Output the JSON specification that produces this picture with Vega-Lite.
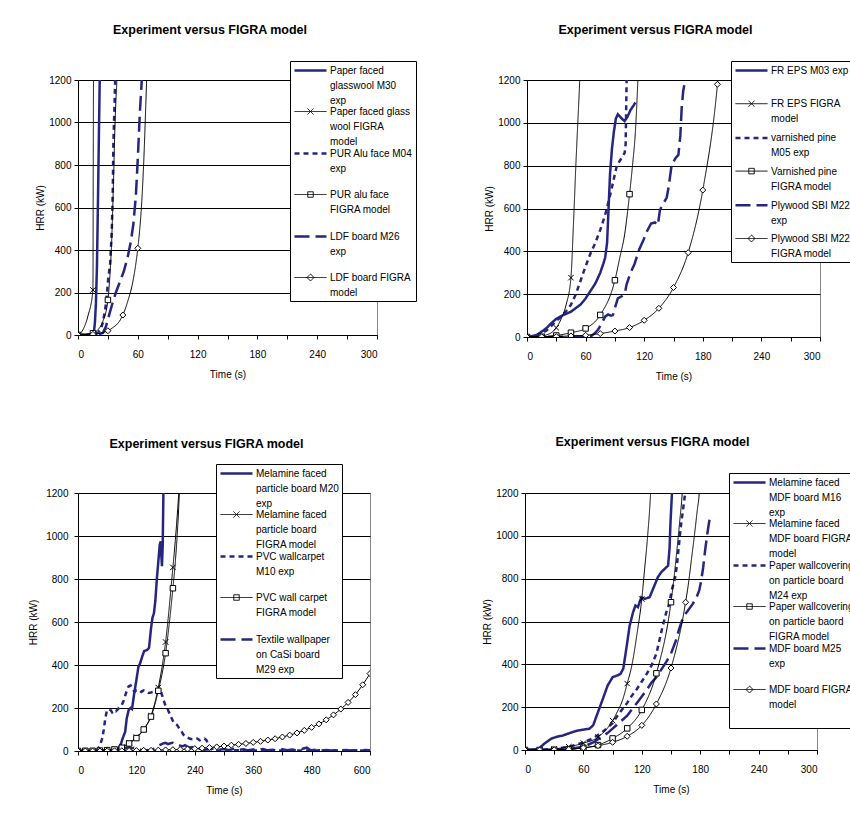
{
"$schema": "https://vega.github.io/schema/vega-lite/v6.json",
"padding": {"left": 28, "top": 23, "right": 0, "bottom": 0},
"background": "white",
"resolve": {"scale": {"color": "independent", "strokeDash": "independent", "shape": "independent", "strokeWidth": "independent"}, "legend": {"color": "independent", "strokeDash": "independent", "shape": "independent", "strokeWidth": "independent"}},
"datasets": {
"p1": [
{"series":"M30 exp","t":0,"hrr":0},{"series":"M30 exp","t":5,"hrr":1},{"series":"M30 exp","t":10,"hrr":2},{"series":"M30 exp","t":14,"hrr":5},{"series":"M30 exp","t":16,"hrr":15},{"series":"M30 exp","t":17,"hrr":60},{"series":"M30 exp","t":18,"hrr":150},{"series":"M30 exp","t":19,"hrr":320},{"series":"M30 exp","t":20,"hrr":620},{"series":"M30 exp","t":21,"hrr":950},{"series":"M30 exp","t":21.8,"hrr":1200},{"series":"M30 exp","t":22.2,"hrr":1300},
{"series":"M30 model","t":0,"hrr":0},{"series":"M30 model","t":5,"hrr":25},{"series":"M30 model","t":10,"hrr":90},{"series":"M30 model","t":15,"hrr":212},{"series":"M30 model","t":15.3,"hrr":800},{"series":"M30 model","t":15.6,"hrr":1300},
{"series":"M04 exp","t":0,"hrr":0},{"series":"M04 exp","t":10,"hrr":1},{"series":"M04 exp","t":15,"hrr":3},{"series":"M04 exp","t":20,"hrr":10},{"series":"M04 exp","t":23,"hrr":30},{"series":"M04 exp","t":25,"hrr":60},{"series":"M04 exp","t":26.5,"hrr":100},{"series":"M04 exp","t":28.2,"hrr":150},{"series":"M04 exp","t":29.5,"hrr":220},{"series":"M04 exp","t":30.5,"hrr":275},{"series":"M04 exp","t":32.2,"hrr":330},{"series":"M04 exp","t":33.9,"hrr":490},{"series":"M04 exp","t":34.9,"hrr":680},{"series":"M04 exp","t":35.5,"hrr":900},{"series":"M04 exp","t":36.5,"hrr":1060},{"series":"M04 exp","t":37.2,"hrr":1180},{"series":"M04 exp","t":37.6,"hrr":1260},
{"series":"M04 model","t":0,"hrr":0},{"series":"M04 model","t":15,"hrr":8},{"series":"M04 model","t":20,"hrr":25},{"series":"M04 model","t":25,"hrr":65},{"series":"M04 model","t":30,"hrr":165},{"series":"M04 model","t":32,"hrr":280},{"series":"M04 model","t":34,"hrr":470},{"series":"M04 model","t":35,"hrr":620},{"series":"M04 model","t":36,"hrr":790},{"series":"M04 model","t":37,"hrr":970},{"series":"M04 model","t":38,"hrr":1100},{"series":"M04 model","t":39,"hrr":1200},{"series":"M04 model","t":39.5,"hrr":1280},
{"series":"M26 exp","t":0,"hrr":0},{"series":"M26 exp","t":15,"hrr":1},{"series":"M26 exp","t":20,"hrr":3},{"series":"M26 exp","t":25,"hrr":10},{"series":"M26 exp","t":28,"hrr":40},{"series":"M26 exp","t":31,"hrr":90},{"series":"M26 exp","t":34,"hrr":140},{"series":"M26 exp","t":38,"hrr":200},{"series":"M26 exp","t":42,"hrr":250},{"series":"M26 exp","t":46,"hrr":300},{"series":"M26 exp","t":50,"hrr":370},{"series":"M26 exp","t":53,"hrr":440},{"series":"M26 exp","t":55.5,"hrr":520},{"series":"M26 exp","t":58,"hrr":650},{"series":"M26 exp","t":60,"hrr":830},{"series":"M26 exp","t":62,"hrr":1040},{"series":"M26 exp","t":64,"hrr":1200},{"series":"M26 exp","t":64.5,"hrr":1260},
{"series":"M26 model","t":0,"hrr":0},{"series":"M26 model","t":15,"hrr":3},{"series":"M26 model","t":30,"hrr":20},{"series":"M26 model","t":35,"hrr":35},{"series":"M26 model","t":40,"hrr":55},{"series":"M26 model","t":45,"hrr":94},{"series":"M26 model","t":50,"hrr":160},{"series":"M26 model","t":55,"hrr":250},{"series":"M26 model","t":60,"hrr":408},{"series":"M26 model","t":62,"hrr":500},{"series":"M26 model","t":64,"hrr":630},{"series":"M26 model","t":66,"hrr":820},{"series":"M26 model","t":68,"hrr":1080},{"series":"M26 model","t":69,"hrr":1220}
],
"p2": [
{"series":"M03 exp","t":0,"hrr":0},{"series":"M03 exp","t":5,"hrr":3},{"series":"M03 exp","t":10,"hrr":10},{"series":"M03 exp","t":15,"hrr":25},{"series":"M03 exp","t":20,"hrr":42},{"series":"M03 exp","t":25,"hrr":65},{"series":"M03 exp","t":30,"hrr":85},{"series":"M03 exp","t":35,"hrr":98},{"series":"M03 exp","t":40,"hrr":108},{"series":"M03 exp","t":45,"hrr":118},{"series":"M03 exp","t":50,"hrr":135},{"series":"M03 exp","t":55,"hrr":152},{"series":"M03 exp","t":60,"hrr":180},{"series":"M03 exp","t":65,"hrr":215},{"series":"M03 exp","t":70,"hrr":250},{"series":"M03 exp","t":75,"hrr":300},{"series":"M03 exp","t":78,"hrr":340},{"series":"M03 exp","t":80,"hrr":370},{"series":"M03 exp","t":82,"hrr":440},{"series":"M03 exp","t":83.5,"hrr":600},{"series":"M03 exp","t":85,"hrr":760},{"series":"M03 exp","t":87,"hrr":880},{"series":"M03 exp","t":89,"hrr":960},{"series":"M03 exp","t":91,"hrr":1020},{"series":"M03 exp","t":93,"hrr":1040},{"series":"M03 exp","t":95,"hrr":1030},{"series":"M03 exp","t":97,"hrr":1020},{"series":"M03 exp","t":100,"hrr":1008},{"series":"M03 exp","t":103,"hrr":1030},{"series":"M03 exp","t":106,"hrr":1060},{"series":"M03 exp","t":109,"hrr":1080},{"series":"M03 exp","t":111,"hrr":1095},
{"series":"M03 model","t":0,"hrr":0},{"series":"M03 model","t":15,"hrr":3},{"series":"M03 model","t":20,"hrr":10},{"series":"M03 model","t":25,"hrr":20},{"series":"M03 model","t":30,"hrr":43},{"series":"M03 model","t":35,"hrr":85},{"series":"M03 model","t":40,"hrr":150},{"series":"M03 model","t":45,"hrr":277},{"series":"M03 model","t":47.5,"hrr":520},{"series":"M03 model","t":50,"hrr":800},{"series":"M03 model","t":52,"hrr":1000},{"series":"M03 model","t":54,"hrr":1200},{"series":"M03 model","t":54.5,"hrr":1260},
{"series":"M05 exp","t":0,"hrr":0},{"series":"M05 exp","t":10,"hrr":5},{"series":"M05 exp","t":20,"hrr":30},{"series":"M05 exp","t":30,"hrr":75},{"series":"M05 exp","t":35,"hrr":95},{"series":"M05 exp","t":40,"hrr":120},{"series":"M05 exp","t":45,"hrr":150},{"series":"M05 exp","t":50,"hrr":200},{"series":"M05 exp","t":55,"hrr":265},{"series":"M05 exp","t":60,"hrr":330},{"series":"M05 exp","t":65,"hrr":390},{"series":"M05 exp","t":70,"hrr":440},{"series":"M05 exp","t":75,"hrr":500},{"series":"M05 exp","t":80,"hrr":570},{"series":"M05 exp","t":85,"hrr":660},{"series":"M05 exp","t":88,"hrr":720},{"series":"M05 exp","t":92,"hrr":800},{"series":"M05 exp","t":96,"hrr":830},{"series":"M05 exp","t":100,"hrr":860},{"series":"M05 exp","t":101,"hrr":900},{"series":"M05 exp","t":101.5,"hrr":1050},{"series":"M05 exp","t":102,"hrr":1200},{"series":"M05 exp","t":102.3,"hrr":1260},
{"series":"M05 model","t":0,"hrr":0},{"series":"M05 model","t":15,"hrr":1},{"series":"M05 model","t":30,"hrr":7},{"series":"M05 model","t":45,"hrr":20},{"series":"M05 model","t":60,"hrr":40},{"series":"M05 model","t":75,"hrr":103},{"series":"M05 model","t":90,"hrr":265},{"series":"M05 model","t":95,"hrr":370},{"series":"M05 model","t":100,"hrr":480},{"series":"M05 model","t":105,"hrr":667},{"series":"M05 model","t":108,"hrr":800},{"series":"M05 model","t":111,"hrr":960},{"series":"M05 model","t":113.5,"hrr":1200},{"series":"M05 model","t":114,"hrr":1260},
{"series":"M22 exp","t":0,"hrr":0},{"series":"M22 exp","t":30,"hrr":1},{"series":"M22 exp","t":60,"hrr":2},{"series":"M22 exp","t":66,"hrr":5},{"series":"M22 exp","t":70,"hrr":20},{"series":"M22 exp","t":73,"hrr":36},{"series":"M22 exp","t":76,"hrr":60},{"series":"M22 exp","t":80,"hrr":95},{"series":"M22 exp","t":83,"hrr":105},{"series":"M22 exp","t":86,"hrr":100},{"series":"M22 exp","t":88,"hrr":103},{"series":"M22 exp","t":90,"hrr":135},{"series":"M22 exp","t":93,"hrr":180},{"series":"M22 exp","t":97,"hrr":190},{"series":"M22 exp","t":100,"hrr":200},{"series":"M22 exp","t":102,"hrr":246},{"series":"M22 exp","t":106,"hrr":300},{"series":"M22 exp","t":110,"hrr":340},{"series":"M22 exp","t":115,"hrr":410},{"series":"M22 exp","t":119,"hrr":450},{"series":"M22 exp","t":123,"hrr":495},{"series":"M22 exp","t":127,"hrr":530},{"series":"M22 exp","t":131,"hrr":535},{"series":"M22 exp","t":134,"hrr":522},{"series":"M22 exp","t":136,"hrr":590},{"series":"M22 exp","t":138,"hrr":612},{"series":"M22 exp","t":143,"hrr":650},{"series":"M22 exp","t":145,"hrr":700},{"series":"M22 exp","t":148,"hrr":800},{"series":"M22 exp","t":152,"hrr":835},{"series":"M22 exp","t":155,"hrr":850},{"series":"M22 exp","t":157,"hrr":940},{"series":"M22 exp","t":158.5,"hrr":1080},{"series":"M22 exp","t":160,"hrr":1150},{"series":"M22 exp","t":162,"hrr":1200},{"series":"M22 exp","t":163.5,"hrr":1240},
{"series":"M22 model","t":0,"hrr":0},{"series":"M22 model","t":15,"hrr":1},{"series":"M22 model","t":30,"hrr":2},{"series":"M22 model","t":45,"hrr":5},{"series":"M22 model","t":60,"hrr":8},{"series":"M22 model","t":75,"hrr":16},{"series":"M22 model","t":90,"hrr":28},{"series":"M22 model","t":105,"hrr":44},{"series":"M22 model","t":120,"hrr":78},{"series":"M22 model","t":135,"hrr":134},{"series":"M22 model","t":150,"hrr":231},{"series":"M22 model","t":165,"hrr":394},{"series":"M22 model","t":180,"hrr":686},{"series":"M22 model","t":195,"hrr":1180},{"series":"M22 model","t":196,"hrr":1230}
],
"p3": [
{"series":"M20 exp","t":0,"hrr":0},{"series":"M20 exp","t":30,"hrr":0},{"series":"M20 exp","t":60,"hrr":1},{"series":"M20 exp","t":80,"hrr":3},{"series":"M20 exp","t":87,"hrr":25},{"series":"M20 exp","t":92,"hrr":60},{"series":"M20 exp","t":97,"hrr":90},{"series":"M20 exp","t":100,"hrr":150},{"series":"M20 exp","t":104,"hrr":190},{"series":"M20 exp","t":108,"hrr":200},{"series":"M20 exp","t":111,"hrr":195},{"series":"M20 exp","t":115,"hrr":260},{"series":"M20 exp","t":120,"hrr":330},{"series":"M20 exp","t":124,"hrr":390},{"series":"M20 exp","t":128,"hrr":410},{"series":"M20 exp","t":132,"hrr":440},{"series":"M20 exp","t":136,"hrr":465},{"series":"M20 exp","t":142,"hrr":470},{"series":"M20 exp","t":146,"hrr":480},{"series":"M20 exp","t":150,"hrr":570},{"series":"M20 exp","t":153,"hrr":620},{"series":"M20 exp","t":156,"hrr":640},{"series":"M20 exp","t":159,"hrr":700},{"series":"M20 exp","t":162,"hrr":800},{"series":"M20 exp","t":165,"hrr":880},{"series":"M20 exp","t":168,"hrr":960},{"series":"M20 exp","t":170,"hrr":975},{"series":"M20 exp","t":171,"hrr":920},{"series":"M20 exp","t":172.5,"hrr":860},{"series":"M20 exp","t":174,"hrr":950},{"series":"M20 exp","t":175.5,"hrr":1200},{"series":"M20 exp","t":176,"hrr":1260},
{"series":"M20 model","t":0,"hrr":0},{"series":"M20 model","t":15,"hrr":0},{"series":"M20 model","t":30,"hrr":1},{"series":"M20 model","t":45,"hrr":2},{"series":"M20 model","t":60,"hrr":4},{"series":"M20 model","t":75,"hrr":8},{"series":"M20 model","t":90,"hrr":18},{"series":"M20 model","t":105,"hrr":38},{"series":"M20 model","t":120,"hrr":64},{"series":"M20 model","t":135,"hrr":102},{"series":"M20 model","t":150,"hrr":164},{"series":"M20 model","t":165,"hrr":295},{"series":"M20 model","t":180,"hrr":507},{"series":"M20 model","t":195,"hrr":854},{"series":"M20 model","t":200,"hrr":980},{"series":"M20 model","t":205,"hrr":1130},{"series":"M20 model","t":208,"hrr":1230},
{"series":"M10 exp","t":0,"hrr":0},{"series":"M10 exp","t":10,"hrr":1},{"series":"M10 exp","t":20,"hrr":0},{"series":"M10 exp","t":30,"hrr":2},{"series":"M10 exp","t":36,"hrr":3},{"series":"M10 exp","t":40,"hrr":8},{"series":"M10 exp","t":45,"hrr":25},{"series":"M10 exp","t":50,"hrr":60},{"series":"M10 exp","t":53,"hrr":100},{"series":"M10 exp","t":56,"hrr":150},{"series":"M10 exp","t":59,"hrr":185},{"series":"M10 exp","t":63,"hrr":195},{"series":"M10 exp","t":67,"hrr":190},{"series":"M10 exp","t":70,"hrr":180},{"series":"M10 exp","t":74,"hrr":190},{"series":"M10 exp","t":78,"hrr":185},{"series":"M10 exp","t":82,"hrr":195},{"series":"M10 exp","t":86,"hrr":205},{"series":"M10 exp","t":90,"hrr":215},{"series":"M10 exp","t":94,"hrr":235},{"series":"M10 exp","t":98,"hrr":265},{"series":"M10 exp","t":101,"hrr":285},{"series":"M10 exp","t":104,"hrr":300},{"series":"M10 exp","t":108,"hrr":305},{"series":"M10 exp","t":112,"hrr":290},{"series":"M10 exp","t":116,"hrr":275},{"series":"M10 exp","t":120,"hrr":282},{"series":"M10 exp","t":125,"hrr":285},{"series":"M10 exp","t":130,"hrr":275},{"series":"M10 exp","t":135,"hrr":282},{"series":"M10 exp","t":140,"hrr":278},{"series":"M10 exp","t":145,"hrr":270},{"series":"M10 exp","t":150,"hrr":272},{"series":"M10 exp","t":155,"hrr":275},{"series":"M10 exp","t":160,"hrr":268},{"series":"M10 exp","t":165,"hrr":280},{"series":"M10 exp","t":169,"hrr":288},{"series":"M10 exp","t":172,"hrr":265},{"series":"M10 exp","t":176,"hrr":235},{"series":"M10 exp","t":180,"hrr":210},{"series":"M10 exp","t":184,"hrr":195},{"series":"M10 exp","t":188,"hrr":175},{"series":"M10 exp","t":192,"hrr":155},{"series":"M10 exp","t":196,"hrr":135},{"series":"M10 exp","t":200,"hrr":128},{"series":"M10 exp","t":204,"hrr":120},{"series":"M10 exp","t":208,"hrr":105},{"series":"M10 exp","t":212,"hrr":95},{"series":"M10 exp","t":216,"hrr":78},{"series":"M10 exp","t":220,"hrr":68},{"series":"M10 exp","t":225,"hrr":63},{"series":"M10 exp","t":230,"hrr":57},{"series":"M10 exp","t":235,"hrr":55},{"series":"M10 exp","t":240,"hrr":55},{"series":"M10 exp","t":245,"hrr":58},{"series":"M10 exp","t":250,"hrr":50},{"series":"M10 exp","t":255,"hrr":55},{"series":"M10 exp","t":260,"hrr":58},{"series":"M10 exp","t":264,"hrr":50},{"series":"M10 exp","t":268,"hrr":28},{"series":"M10 exp","t":272,"hrr":12},{"series":"M10 exp","t":276,"hrr":5},{"series":"M10 exp","t":285,"hrr":3},{"series":"M10 exp","t":300,"hrr":2},{"series":"M10 exp","t":330,"hrr":4},{"series":"M10 exp","t":360,"hrr":2},{"series":"M10 exp","t":400,"hrr":3},{"series":"M10 exp","t":450,"hrr":2},{"series":"M10 exp","t":500,"hrr":3},{"series":"M10 exp","t":550,"hrr":2},{"series":"M10 exp","t":600,"hrr":2},
{"series":"M10 model","t":0,"hrr":0},{"series":"M10 model","t":15,"hrr":1},{"series":"M10 model","t":30,"hrr":1},{"series":"M10 model","t":45,"hrr":2},{"series":"M10 model","t":60,"hrr":4},{"series":"M10 model","t":75,"hrr":7},{"series":"M10 model","t":90,"hrr":15},{"series":"M10 model","t":105,"hrr":35},{"series":"M10 model","t":120,"hrr":60},{"series":"M10 model","t":135,"hrr":100},{"series":"M10 model","t":150,"hrr":160},{"series":"M10 model","t":165,"hrr":280},{"series":"M10 model","t":180,"hrr":455},{"series":"M10 model","t":195,"hrr":757},{"series":"M10 model","t":200,"hrr":880},{"series":"M10 model","t":205,"hrr":1050},{"series":"M10 model","t":209,"hrr":1230},
{"series":"M29 exp","t":0,"hrr":0},{"series":"M29 exp","t":30,"hrr":1},{"series":"M29 exp","t":60,"hrr":2},{"series":"M29 exp","t":80,"hrr":3},{"series":"M29 exp","t":90,"hrr":6},{"series":"M29 exp","t":95,"hrr":10},{"series":"M29 exp","t":100,"hrr":15},{"series":"M29 exp","t":105,"hrr":18},{"series":"M29 exp","t":110,"hrr":12},{"series":"M29 exp","t":115,"hrr":15},{"series":"M29 exp","t":120,"hrr":10},{"series":"M29 exp","t":125,"hrr":8},{"series":"M29 exp","t":130,"hrr":5},{"series":"M29 exp","t":140,"hrr":3},{"series":"M29 exp","t":150,"hrr":5},{"series":"M29 exp","t":155,"hrr":10},{"series":"M29 exp","t":160,"hrr":18},{"series":"M29 exp","t":165,"hrr":25},{"series":"M29 exp","t":170,"hrr":30},{"series":"M29 exp","t":175,"hrr":35},{"series":"M29 exp","t":180,"hrr":38},{"series":"M29 exp","t":185,"hrr":32},{"series":"M29 exp","t":190,"hrr":36},{"series":"M29 exp","t":195,"hrr":38},{"series":"M29 exp","t":200,"hrr":33},{"series":"M29 exp","t":205,"hrr":30},{"series":"M29 exp","t":210,"hrr":25},{"series":"M29 exp","t":215,"hrr":22},{"series":"M29 exp","t":220,"hrr":27},{"series":"M29 exp","t":225,"hrr":20},{"series":"M29 exp","t":230,"hrr":16},{"series":"M29 exp","t":235,"hrr":18},{"series":"M29 exp","t":240,"hrr":12},{"series":"M29 exp","t":250,"hrr":10},{"series":"M29 exp","t":260,"hrr":6},{"series":"M29 exp","t":270,"hrr":8},{"series":"M29 exp","t":280,"hrr":12},{"series":"M29 exp","t":290,"hrr":6},{"series":"M29 exp","t":300,"hrr":9},{"series":"M29 exp","t":310,"hrr":4},{"series":"M29 exp","t":320,"hrr":10},{"series":"M29 exp","t":330,"hrr":5},{"series":"M29 exp","t":340,"hrr":8},{"series":"M29 exp","t":350,"hrr":3},{"series":"M29 exp","t":360,"hrr":7},{"series":"M29 exp","t":370,"hrr":4},{"series":"M29 exp","t":380,"hrr":9},{"series":"M29 exp","t":390,"hrr":3},{"series":"M29 exp","t":400,"hrr":6},{"series":"M29 exp","t":410,"hrr":2},{"series":"M29 exp","t":420,"hrr":8},{"series":"M29 exp","t":430,"hrr":4},{"series":"M29 exp","t":440,"hrr":7},{"series":"M29 exp","t":450,"hrr":3},{"series":"M29 exp","t":460,"hrr":9},{"series":"M29 exp","t":470,"hrr":16},{"series":"M29 exp","t":475,"hrr":8},{"series":"M29 exp","t":480,"hrr":3},{"series":"M29 exp","t":490,"hrr":6},{"series":"M29 exp","t":500,"hrr":2},{"series":"M29 exp","t":510,"hrr":5},{"series":"M29 exp","t":520,"hrr":2},{"series":"M29 exp","t":530,"hrr":4},{"series":"M29 exp","t":540,"hrr":3},{"series":"M29 exp","t":550,"hrr":5},{"series":"M29 exp","t":560,"hrr":2},{"series":"M29 exp","t":570,"hrr":4},{"series":"M29 exp","t":580,"hrr":2},{"series":"M29 exp","t":590,"hrr":5},{"series":"M29 exp","t":600,"hrr":3},
{"series":"M29 model","t":0,"hrr":0},{"series":"M29 model","t":15,"hrr":0},{"series":"M29 model","t":30,"hrr":0},{"series":"M29 model","t":45,"hrr":0},{"series":"M29 model","t":60,"hrr":1},{"series":"M29 model","t":75,"hrr":1},{"series":"M29 model","t":90,"hrr":1},{"series":"M29 model","t":105,"hrr":2},{"series":"M29 model","t":120,"hrr":2},{"series":"M29 model","t":135,"hrr":3},{"series":"M29 model","t":150,"hrr":3},{"series":"M29 model","t":165,"hrr":4},{"series":"M29 model","t":180,"hrr":5},{"series":"M29 model","t":195,"hrr":6},{"series":"M29 model","t":210,"hrr":7},{"series":"M29 model","t":225,"hrr":9},{"series":"M29 model","t":240,"hrr":11},{"series":"M29 model","t":255,"hrr":13},{"series":"M29 model","t":270,"hrr":16},{"series":"M29 model","t":285,"hrr":19},{"series":"M29 model","t":300,"hrr":23},{"series":"M29 model","t":315,"hrr":27},{"series":"M29 model","t":330,"hrr":31},{"series":"M29 model","t":345,"hrr":35},{"series":"M29 model","t":360,"hrr":40},{"series":"M29 model","t":375,"hrr":45},{"series":"M29 model","t":390,"hrr":51},{"series":"M29 model","t":405,"hrr":57},{"series":"M29 model","t":420,"hrr":65},{"series":"M29 model","t":435,"hrr":74},{"series":"M29 model","t":450,"hrr":84},{"series":"M29 model","t":465,"hrr":96},{"series":"M29 model","t":480,"hrr":110},{"series":"M29 model","t":495,"hrr":126},{"series":"M29 model","t":510,"hrr":145},{"series":"M29 model","t":525,"hrr":168},{"series":"M29 model","t":540,"hrr":195},{"series":"M29 model","t":555,"hrr":226},{"series":"M29 model","t":570,"hrr":262},{"series":"M29 model","t":585,"hrr":308},{"series":"M29 model","t":600,"hrr":360}
],
"p4": [
{"series":"M16 exp","t":0,"hrr":0},{"series":"M16 exp","t":10,"hrr":3},{"series":"M16 exp","t":14,"hrr":6},{"series":"M16 exp","t":20,"hrr":30},{"series":"M16 exp","t":27,"hrr":53},{"series":"M16 exp","t":33,"hrr":62},{"series":"M16 exp","t":39,"hrr":68},{"series":"M16 exp","t":44,"hrr":76},{"series":"M16 exp","t":51,"hrr":87},{"series":"M16 exp","t":56,"hrr":92},{"series":"M16 exp","t":61,"hrr":96},{"series":"M16 exp","t":66,"hrr":99},{"series":"M16 exp","t":70,"hrr":115},{"series":"M16 exp","t":75,"hrr":177},{"series":"M16 exp","t":80,"hrr":239},{"series":"M16 exp","t":85,"hrr":302},{"series":"M16 exp","t":90,"hrr":340},{"series":"M16 exp","t":95,"hrr":348},{"series":"M16 exp","t":98,"hrr":355},{"series":"M16 exp","t":101,"hrr":380},{"series":"M16 exp","t":104,"hrr":470},{"series":"M16 exp","t":107.5,"hrr":580},{"series":"M16 exp","t":111,"hrr":643},{"series":"M16 exp","t":113.5,"hrr":675},{"series":"M16 exp","t":116,"hrr":667},{"series":"M16 exp","t":119.5,"hrr":713},{"series":"M16 exp","t":123,"hrr":706},{"series":"M16 exp","t":128,"hrr":713},{"series":"M16 exp","t":133,"hrr":768},{"series":"M16 exp","t":136.5,"hrr":807},{"series":"M16 exp","t":140,"hrr":830},{"series":"M16 exp","t":143.5,"hrr":846},{"series":"M16 exp","t":147,"hrr":861},{"series":"M16 exp","t":148.5,"hrr":940},{"series":"M16 exp","t":149.5,"hrr":1063},{"series":"M16 exp","t":151,"hrr":1200},{"series":"M16 exp","t":151.5,"hrr":1260},
{"series":"M16 model","t":0,"hrr":0},{"series":"M16 model","t":15,"hrr":1},{"series":"M16 model","t":30,"hrr":5},{"series":"M16 model","t":45,"hrr":15},{"series":"M16 model","t":60,"hrr":32},{"series":"M16 model","t":75,"hrr":60},{"series":"M16 model","t":90,"hrr":137},{"series":"M16 model","t":95,"hrr":180},{"series":"M16 model","t":100,"hrr":230},{"series":"M16 model","t":105,"hrr":310},{"series":"M16 model","t":110,"hrr":400},{"series":"M16 model","t":115,"hrr":540},{"series":"M16 model","t":120,"hrr":705},{"series":"M16 model","t":123,"hrr":850},{"series":"M16 model","t":126,"hrr":1000},{"series":"M16 model","t":129,"hrr":1200},{"series":"M16 model","t":129.5,"hrr":1250},
{"series":"M24 exp","t":0,"hrr":0},{"series":"M24 exp","t":15,"hrr":2},{"series":"M24 exp","t":30,"hrr":5},{"series":"M24 exp","t":45,"hrr":15},{"series":"M24 exp","t":60,"hrr":35},{"series":"M24 exp","t":70,"hrr":55},{"series":"M24 exp","t":75,"hrr":70},{"series":"M24 exp","t":80,"hrr":85},{"series":"M24 exp","t":85,"hrr":105},{"series":"M24 exp","t":90,"hrr":125},{"series":"M24 exp","t":95,"hrr":160},{"series":"M24 exp","t":100,"hrr":190},{"series":"M24 exp","t":105,"hrr":220},{"series":"M24 exp","t":110,"hrr":255},{"series":"M24 exp","t":115,"hrr":285},{"series":"M24 exp","t":120,"hrr":320},{"series":"M24 exp","t":125,"hrr":355},{"series":"M24 exp","t":130,"hrr":395},{"series":"M24 exp","t":135,"hrr":450},{"series":"M24 exp","t":138,"hrr":510},{"series":"M24 exp","t":141,"hrr":570},{"series":"M24 exp","t":145,"hrr":640},{"series":"M24 exp","t":148,"hrr":680},{"series":"M24 exp","t":151,"hrr":750},{"series":"M24 exp","t":154,"hrr":800},{"series":"M24 exp","t":156,"hrr":860},{"series":"M24 exp","t":158,"hrr":950},{"series":"M24 exp","t":160,"hrr":1040},{"series":"M24 exp","t":162,"hrr":1110},{"series":"M24 exp","t":164,"hrr":1180},{"series":"M24 exp","t":165,"hrr":1230},
{"series":"M24 model","t":0,"hrr":0},{"series":"M24 model","t":15,"hrr":0},{"series":"M24 model","t":30,"hrr":1},{"series":"M24 model","t":45,"hrr":4},{"series":"M24 model","t":60,"hrr":10},{"series":"M24 model","t":75,"hrr":23},{"series":"M24 model","t":90,"hrr":54},{"series":"M24 model","t":105,"hrr":101},{"series":"M24 model","t":120,"hrr":187},{"series":"M24 model","t":135,"hrr":358},{"series":"M24 model","t":150,"hrr":690},{"series":"M24 model","t":153,"hrr":800},{"series":"M24 model","t":156,"hrr":930},{"series":"M24 model","t":159,"hrr":1070},{"series":"M24 model","t":161.5,"hrr":1200},{"series":"M24 model","t":162,"hrr":1240},
{"series":"M25 exp","t":0,"hrr":0},{"series":"M25 exp","t":15,"hrr":1},{"series":"M25 exp","t":30,"hrr":2},{"series":"M25 exp","t":45,"hrr":5},{"series":"M25 exp","t":60,"hrr":15},{"series":"M25 exp","t":70,"hrr":35},{"series":"M25 exp","t":80,"hrr":65},{"series":"M25 exp","t":85,"hrr":80},{"series":"M25 exp","t":90,"hrr":100},{"series":"M25 exp","t":95,"hrr":120},{"series":"M25 exp","t":100,"hrr":140},{"series":"M25 exp","t":105,"hrr":160},{"series":"M25 exp","t":110,"hrr":190},{"series":"M25 exp","t":115,"hrr":220},{"series":"M25 exp","t":120,"hrr":250},{"series":"M25 exp","t":125,"hrr":280},{"series":"M25 exp","t":130,"hrr":315},{"series":"M25 exp","t":135,"hrr":340},{"series":"M25 exp","t":140,"hrr":375},{"series":"M25 exp","t":145,"hrr":410},{"series":"M25 exp","t":150,"hrr":450},{"series":"M25 exp","t":155,"hrr":510},{"series":"M25 exp","t":158,"hrr":560},{"series":"M25 exp","t":161,"hrr":600},{"series":"M25 exp","t":164,"hrr":630},{"series":"M25 exp","t":168,"hrr":655},{"series":"M25 exp","t":172,"hrr":680},{"series":"M25 exp","t":176,"hrr":710},{"series":"M25 exp","t":179,"hrr":745},{"series":"M25 exp","t":181,"hrr":790},{"series":"M25 exp","t":183,"hrr":850},{"series":"M25 exp","t":185,"hrr":930},{"series":"M25 exp","t":187,"hrr":1000},{"series":"M25 exp","t":189,"hrr":1060},{"series":"M25 exp","t":190.5,"hrr":1100},
{"series":"M25 model","t":0,"hrr":0},{"series":"M25 model","t":15,"hrr":0},{"series":"M25 model","t":30,"hrr":1},{"series":"M25 model","t":45,"hrr":3},{"series":"M25 model","t":60,"hrr":10},{"series":"M25 model","t":75,"hrr":20},{"series":"M25 model","t":90,"hrr":36},{"series":"M25 model","t":105,"hrr":64},{"series":"M25 model","t":120,"hrr":115},{"series":"M25 model","t":135,"hrr":215},{"series":"M25 model","t":150,"hrr":383},{"series":"M25 model","t":165,"hrr":690},{"series":"M25 model","t":168,"hrr":780},{"series":"M25 model","t":171,"hrr":890},{"series":"M25 model","t":174,"hrr":1000},{"series":"M25 model","t":177,"hrr":1120},{"series":"M25 model","t":179,"hrr":1200},{"series":"M25 model","t":179.5,"hrr":1240}
]
},
"vconcat": [
{"hconcat": [
{
"width": 299, "height": 255,
"title": {"text": "Experiment versus FIGRA model", "dx": -17.5, "offset": 24},
"data": {"name": "p1"},
"encoding": {
 "x": {"field": "t", "type": "quantitative", "scale": {"domain": [0, 300], "nice": false}, "axis": {"values": [0,30,60,90,120,150,180,210,240,270,300], "labelExpr": "datum.value % 60 == 0 ? datum.label : ''", "grid": false, "title": "Time (s)"}},
 "y": {"field": "hrr", "type": "quantitative", "scale": {"domain": [0, 1200], "nice": false}, "axis": {"values": [0,200,400,600,800,1000,1200], "format": "d", "grid": true, "title": "HRR (kW)"}}
},
"layer": [
 {"transform": [{"filter": "false"}], "mark": {"type": "point", "filled": false, "opacity": 1},
  "encoding": {
   "color": {"field": "series", "type": "nominal", "scale": {"domain": ["M30 exp","M30 model","M04 exp","M04 model","M26 exp","M26 model"], "range": ["#262680","#000000","#262680","#000000","#262680","#000000"]},
     "legend": {"title": null, "orient": "none", "legendX": 212, "legendY": -19, "rowPadding": 0,
       "labelExpr": "{'M30 exp':['Paper faced','glasswool M30','exp'],'M30 model':['Paper faced glass','wool  FIGRA','model'],'M04 exp':['PUR Alu face M04','exp',''],'M04 model':['PUR alu face','FIGRA model',''],'M26 exp':['LDF board M26','exp',''],'M26 model':['LDF board FIGRA','model']}[datum.label]"}},
   "strokeDash": {"field": "series", "type": "nominal", "scale": {"domain": ["M30 exp","M30 model","M04 exp","M04 model","M26 exp","M26 model"], "range": [[1,0],[1,0],[5,4],[1,0],[15,6],[1,0]]}},
   "strokeWidth": {"field": "series", "type": "nominal", "scale": {"type": "ordinal", "domain": ["M30 exp","M30 model","M04 exp","M04 model","M26 exp","M26 model"], "range": [2.5,1,2.5,1,2.5,1]}},
   "shape": {"field": "series", "type": "nominal", "scale": {"domain": ["M30 exp","M30 model","M04 exp","M04 model","M26 exp","M26 model"], "range": ["M-3.2,0H3.2","M-3.2,0H3.2M-0.6,-0.6L0.6,0.6M-0.6,0.6L0.6,-0.6","M-3.2,0H3.2","M-3.2,0H3.2M-0.55,-0.55H0.55V0.55H-0.55Z","M-3.2,0H3.2","M-3.2,0H3.2M0,-0.7L0.7,0L0,0.7L-0.7,0Z"]}}
  }},
 {"transform": [{"filter": "test(/exp/, datum.series)"}], "mark": {"type": "line", "clip": true, "strokeWidth": 2.5},
  "encoding": {"color": {"field": "series", "type": "nominal", "scale": {"domain": ["M30 exp","M30 model","M04 exp","M04 model","M26 exp","M26 model"], "range": ["#262680","#000000","#262680","#000000","#262680","#000000"]}},
   "strokeDash": {"field": "series", "type": "nominal", "scale": {"domain": ["M30 exp","M30 model","M04 exp","M04 model","M26 exp","M26 model"], "range": [[1,0],[1,0],[5,4],[1,0],[15,6],[1,0]]}}}},
 {"transform": [{"filter": "test(/model/, datum.series)"}], "mark": {"type": "line", "clip": true, "strokeWidth": 1, "interpolate": "monotone"},
  "encoding": {"color": {"field": "series", "type": "nominal", "scale": {"domain": ["M30 exp","M30 model","M04 exp","M04 model","M26 exp","M26 model"], "range": ["#262680","#000000","#262680","#000000","#262680","#000000"]}},
   "strokeDash": {"field": "series", "type": "nominal", "scale": {"domain": ["M30 exp","M30 model","M04 exp","M04 model","M26 exp","M26 model"], "range": [[1,0],[1,0],[5,4],[1,0],[15,6],[1,0]]}}}},
 {"transform": [{"filter": "datum.series == 'M30 model' && datum.t % 15 == 0"}], "mark": {"type": "point", "clip": true, "shape": "M-1,-1L1,1M-1,1L1,-1", "size": 30, "filled": false, "stroke": "black", "strokeWidth": 1, "opacity": 1}},
 {"transform": [{"filter": "datum.series == 'M04 model' && datum.t % 15 == 0"}], "mark": {"type": "point", "clip": true, "shape": "square", "size": 30, "filled": true, "fill": "white", "stroke": "black", "strokeWidth": 1, "opacity": 1}},
 {"transform": [{"filter": "datum.series == 'M26 model' && datum.t % 15 == 0"}], "mark": {"type": "point", "clip": true, "shape": "diamond", "size": 36, "filled": true, "fill": "white", "stroke": "black", "strokeWidth": 1, "opacity": 1}}
]
},
{
"width": 293, "height": 257,
"title": {"text": "Experiment versus FIGRA model", "dx": -18, "offset": 24},
"data": {"name": "p2"},
"encoding": {
 "x": {"field": "t", "type": "quantitative", "scale": {"domain": [0, 300], "nice": false}, "axis": {"values": [0,30,60,90,120,150,180,210,240,270,300], "labelExpr": "datum.value % 60 == 0 ? datum.label : ''", "grid": false, "title": "Time (s)"}},
 "y": {"field": "hrr", "type": "quantitative", "scale": {"domain": [0, 1200], "nice": false}, "axis": {"values": [0,200,400,600,800,1000,1200], "format": "d", "grid": true, "title": "HRR (kW)"}}
},
"layer": [
 {"transform": [{"filter": "false"}], "mark": {"type": "point", "filled": false, "opacity": 1},
  "encoding": {
   "color": {"field": "series", "type": "nominal", "scale": {"domain": ["M03 exp","M03 model","M05 exp","M05 model","M22 exp","M22 model"], "range": ["#262680","#000000","#262680","#000000","#262680","#000000"]},
     "legend": {"title": null, "orient": "none", "legendX": 204, "legendY": -19, "rowPadding": 7.2,
       "labelExpr": "{'M03 exp':['FR EPS M03 exp',''],'M03 model':['FR EPS FIGRA','model'],'M05 exp':['varnished pine','M05 exp'],'M05 model':['Varnished pine','FIGRA model'],'M22 exp':['Plywood SBI M22','exp'],'M22 model':['Plywood SBI M22','FIGRA model']}[datum.label]"}},
   "strokeDash": {"field": "series", "type": "nominal", "scale": {"domain": ["M03 exp","M03 model","M05 exp","M05 model","M22 exp","M22 model"], "range": [[1,0],[1,0],[5,4],[1,0],[15,6],[1,0]]}},
   "strokeWidth": {"field": "series", "type": "nominal", "scale": {"type": "ordinal", "domain": ["M03 exp","M03 model","M05 exp","M05 model","M22 exp","M22 model"], "range": [2.5,1,2.5,1,2.5,1]}},
   "shape": {"field": "series", "type": "nominal", "scale": {"domain": ["M03 exp","M03 model","M05 exp","M05 model","M22 exp","M22 model"], "range": ["M-3.2,0H3.2","M-3.2,0H3.2M-0.6,-0.6L0.6,0.6M-0.6,0.6L0.6,-0.6","M-3.2,0H3.2","M-3.2,0H3.2M-0.55,-0.55H0.55V0.55H-0.55Z","M-3.2,0H3.2","M-3.2,0H3.2M0,-0.7L0.7,0L0,0.7L-0.7,0Z"]}}
  }},
 {"transform": [{"filter": "test(/exp/, datum.series)"}], "mark": {"type": "line", "clip": true, "strokeWidth": 2.5},
  "encoding": {"color": {"field": "series", "type": "nominal", "scale": {"domain": ["M03 exp","M03 model","M05 exp","M05 model","M22 exp","M22 model"], "range": ["#262680","#000000","#262680","#000000","#262680","#000000"]}},
   "strokeDash": {"field": "series", "type": "nominal", "scale": {"domain": ["M03 exp","M03 model","M05 exp","M05 model","M22 exp","M22 model"], "range": [[1,0],[1,0],[5,4],[1,0],[15,6],[1,0]]}}}},
 {"transform": [{"filter": "test(/model/, datum.series)"}], "mark": {"type": "line", "clip": true, "strokeWidth": 1, "interpolate": "monotone"},
  "encoding": {"color": {"field": "series", "type": "nominal", "scale": {"domain": ["M03 exp","M03 model","M05 exp","M05 model","M22 exp","M22 model"], "range": ["#262680","#000000","#262680","#000000","#262680","#000000"]}},
   "strokeDash": {"field": "series", "type": "nominal", "scale": {"domain": ["M03 exp","M03 model","M05 exp","M05 model","M22 exp","M22 model"], "range": [[1,0],[1,0],[5,4],[1,0],[15,6],[1,0]]}}}},
 {"transform": [{"filter": "datum.series == 'M03 model' && datum.t % 15 == 0"}], "mark": {"type": "point", "clip": true, "shape": "M-1,-1L1,1M-1,1L1,-1", "size": 30, "filled": false, "stroke": "black", "strokeWidth": 1, "opacity": 1}},
 {"transform": [{"filter": "datum.series == 'M05 model' && datum.t % 15 == 0"}], "mark": {"type": "point", "clip": true, "shape": "square", "size": 30, "filled": true, "fill": "white", "stroke": "black", "strokeWidth": 1, "opacity": 1}},
 {"transform": [{"filter": "datum.series == 'M22 model' && datum.t % 15 == 0"}], "mark": {"type": "point", "clip": true, "shape": "diamond", "size": 36, "filled": true, "fill": "white", "stroke": "black", "strokeWidth": 1, "opacity": 1}}
]
}
], "spacing": 67, "resolve": {"scale": {"color": "independent", "strokeDash": "independent", "shape": "independent", "strokeWidth": "independent"}, "legend": {"color": "independent", "strokeDash": "independent", "shape": "independent", "strokeWidth": "independent"}}},
{"hconcat": [
{
"width": 292, "height": 258,
"title": {"text": "Experiment versus FIGRA model", "dx": -17.5, "offset": 13},
"data": {"name": "p3"},
"encoding": {
 "x": {"field": "t", "type": "quantitative", "scale": {"domain": [0, 600], "nice": false}, "axis": {"values": [0,60,120,180,240,300,360,420,480,540,600], "labelExpr": "datum.value % 120 == 0 ? datum.label : ''", "grid": false, "title": "Time (s)"}},
 "y": {"field": "hrr", "type": "quantitative", "scale": {"domain": [0, 1200], "nice": false}, "axis": {"values": [0,200,400,600,800,1000,1200], "format": "d", "grid": true, "title": "HRR (kW)", "labelPadding": 6, "titlePadding": 7}}
},
"layer": [
 {"transform": [{"filter": "false"}], "mark": {"type": "point", "filled": false, "opacity": 1},
  "encoding": {
   "color": {"field": "series", "type": "nominal", "scale": {"domain": ["M20 exp","M20 model","M10 exp","M10 model","M29 exp"], "range": ["#262680","#000000","#262680","#000000","#262680"]},
     "legend": {"title": null, "orient": "none", "legendX": 138, "legendY": -29, "rowPadding": -1,
       "labelExpr": "{'M20 exp':['Melamine faced','particle board M20','exp'],'M20 model':['Melamine faced','particle board','FIGRA model'],'M10 exp':['PVC wallcarpet','M10 exp',''],'M10 model':['PVC wall carpet','FIGRA model',''],'M29 exp':['Textile wallpaper','on CaSi board','M29 exp']}[datum.label]"}},
   "strokeDash": {"field": "series", "type": "nominal", "scale": {"domain": ["M20 exp","M20 model","M10 exp","M10 model","M29 exp"], "range": [[1,0],[1,0],[5,4],[1,0],[15,6]]}},
   "strokeWidth": {"field": "series", "type": "nominal", "scale": {"type": "ordinal", "domain": ["M20 exp","M20 model","M10 exp","M10 model","M29 exp"], "range": [2.5,1,2.5,1,2.5]}},
   "shape": {"field": "series", "type": "nominal", "scale": {"domain": ["M20 exp","M20 model","M10 exp","M10 model","M29 exp"], "range": ["M-3.2,0H3.2","M-3.2,0H3.2M-0.6,-0.6L0.6,0.6M-0.6,0.6L0.6,-0.6","M-3.2,0H3.2","M-3.2,0H3.2M-0.55,-0.55H0.55V0.55H-0.55Z","M-3.2,0H3.2"]}}
  }},
 {"transform": [{"filter": "test(/exp/, datum.series)"}], "mark": {"type": "line", "clip": true, "strokeWidth": 2.5},
  "encoding": {"color": {"field": "series", "type": "nominal", "scale": {"domain": ["M20 exp","M20 model","M10 exp","M10 model","M29 exp"], "range": ["#262680","#000000","#262680","#000000","#262680"]}},
   "strokeDash": {"field": "series", "type": "nominal", "scale": {"domain": ["M20 exp","M20 model","M10 exp","M10 model","M29 exp"], "range": [[1,0],[1,0],[5,4],[1,0],[15,6]]}}}},
 {"transform": [{"filter": "datum.series == 'M20 model' || datum.series == 'M10 model'"}], "mark": {"type": "line", "clip": true, "strokeWidth": 1, "interpolate": "monotone"},
  "encoding": {"color": {"field": "series", "type": "nominal", "scale": {"domain": ["M20 exp","M20 model","M10 exp","M10 model","M29 exp"], "range": ["#262680","#000000","#262680","#000000","#262680"]}},
   "strokeDash": {"field": "series", "type": "nominal", "scale": {"domain": ["M20 exp","M20 model","M10 exp","M10 model","M29 exp"], "range": [[1,0],[1,0],[5,4],[1,0],[15,6]]}}}},
 {"transform": [{"filter": "datum.series == 'M29 model'"}], "mark": {"type": "line", "clip": true, "strokeWidth": 1, "color": "black", "interpolate": "monotone"}, "encoding": {}},
 {"transform": [{"filter": "datum.series == 'M20 model' && datum.t % 15 == 0"}], "mark": {"type": "point", "clip": true, "shape": "M-1,-1L1,1M-1,1L1,-1", "size": 30, "filled": false, "stroke": "black", "strokeWidth": 1, "opacity": 1}},
 {"transform": [{"filter": "datum.series == 'M10 model' && datum.t % 15 == 0"}], "mark": {"type": "point", "clip": true, "shape": "square", "size": 30, "filled": true, "fill": "white", "stroke": "black", "strokeWidth": 1, "opacity": 1}},
 {"transform": [{"filter": "datum.series == 'M29 model' && datum.t % 15 == 0"}], "mark": {"type": "point", "clip": true, "shape": "diamond", "size": 36, "filled": true, "fill": "white", "stroke": "black", "strokeWidth": 1, "opacity": 1}}
]
},
{
"width": 292, "height": 257,
"title": {"text": "Experiment versus FIGRA model", "dx": -18.5, "offset": 24},
"data": {"name": "p4"},
"encoding": {
 "x": {"field": "t", "type": "quantitative", "scale": {"domain": [0, 300], "nice": false}, "axis": {"values": [0,30,60,90,120,150,180,210,240,270,300], "labelExpr": "datum.value % 60 == 0 ? datum.label : ''", "grid": false, "title": "Time (s)"}},
 "y": {"field": "hrr", "type": "quantitative", "scale": {"domain": [0, 1200], "nice": false}, "axis": {"values": [0,200,400,600,800,1000,1200], "format": "d", "grid": true, "title": "HRR (kW)"}}
},
"layer": [
 {"transform": [{"filter": "false"}], "mark": {"type": "point", "filled": false, "opacity": 1},
  "encoding": {
   "color": {"field": "series", "type": "nominal", "scale": {"domain": ["M16 exp","M16 model","M24 exp","M24 model","M25 exp","M25 model"], "range": ["#262680","#000000","#262680","#000000","#262680","#000000"]},
     "legend": {"title": null, "orient": "none", "legendX": 204, "legendY": -20, "rowPadding": -1,
       "labelExpr": "{'M16 exp':['Melamine faced','MDF board M16','exp'],'M16 model':['Melamine faced','MDF board FIGRA','model'],'M24 exp':['Paper wallcovering','on particle board','M24 exp'],'M24 model':['Paper wallcovering','on particle baord','FIGRA model'],'M25 exp':['MDF board M25','exp',''],'M25 model':['MDF board FIGRA','model','']}[datum.label]"}},
   "strokeDash": {"field": "series", "type": "nominal", "scale": {"domain": ["M16 exp","M16 model","M24 exp","M24 model","M25 exp","M25 model"], "range": [[1,0],[1,0],[5,4],[1,0],[15,6],[1,0]]}},
   "strokeWidth": {"field": "series", "type": "nominal", "scale": {"type": "ordinal", "domain": ["M16 exp","M16 model","M24 exp","M24 model","M25 exp","M25 model"], "range": [2.5,1,2.5,1,2.5,1]}},
   "shape": {"field": "series", "type": "nominal", "scale": {"domain": ["M16 exp","M16 model","M24 exp","M24 model","M25 exp","M25 model"], "range": ["M-3.2,0H3.2","M-3.2,0H3.2M-0.6,-0.6L0.6,0.6M-0.6,0.6L0.6,-0.6","M-3.2,0H3.2","M-3.2,0H3.2M-0.55,-0.55H0.55V0.55H-0.55Z","M-3.2,0H3.2","M-3.2,0H3.2M0,-0.7L0.7,0L0,0.7L-0.7,0Z"]}}
  }},
 {"transform": [{"filter": "test(/exp/, datum.series)"}], "mark": {"type": "line", "clip": true, "strokeWidth": 2.5},
  "encoding": {"color": {"field": "series", "type": "nominal", "scale": {"domain": ["M16 exp","M16 model","M24 exp","M24 model","M25 exp","M25 model"], "range": ["#262680","#000000","#262680","#000000","#262680","#000000"]}},
   "strokeDash": {"field": "series", "type": "nominal", "scale": {"domain": ["M16 exp","M16 model","M24 exp","M24 model","M25 exp","M25 model"], "range": [[1,0],[1,0],[5,4],[1,0],[15,6],[1,0]]}}}},
 {"transform": [{"filter": "test(/model/, datum.series)"}], "mark": {"type": "line", "clip": true, "strokeWidth": 1, "interpolate": "monotone"},
  "encoding": {"color": {"field": "series", "type": "nominal", "scale": {"domain": ["M16 exp","M16 model","M24 exp","M24 model","M25 exp","M25 model"], "range": ["#262680","#000000","#262680","#000000","#262680","#000000"]}},
   "strokeDash": {"field": "series", "type": "nominal", "scale": {"domain": ["M16 exp","M16 model","M24 exp","M24 model","M25 exp","M25 model"], "range": [[1,0],[1,0],[5,4],[1,0],[15,6],[1,0]]}}}},
 {"transform": [{"filter": "datum.series == 'M16 model' && datum.t % 15 == 0"}], "mark": {"type": "point", "clip": true, "shape": "M-1,-1L1,1M-1,1L1,-1", "size": 30, "filled": false, "stroke": "black", "strokeWidth": 1, "opacity": 1}},
 {"transform": [{"filter": "datum.series == 'M24 model' && datum.t % 15 == 0"}], "mark": {"type": "point", "clip": true, "shape": "square", "size": 30, "filled": true, "fill": "white", "stroke": "black", "strokeWidth": 1, "opacity": 1}},
 {"transform": [{"filter": "datum.series == 'M25 model' && datum.t % 15 == 0"}], "mark": {"type": "point", "clip": true, "shape": "diamond", "size": 36, "filled": true, "fill": "white", "stroke": "black", "strokeWidth": 1, "opacity": 1}}
]
}
], "spacing": 111, "resolve": {"scale": {"color": "independent", "strokeDash": "independent", "shape": "independent", "strokeWidth": "independent"}, "legend": {"color": "independent", "strokeDash": "independent", "shape": "independent", "strokeWidth": "independent"}}}
],
"spacing": 53,
"config": {
 "font": "Liberation Sans",
 "view": {"stroke": "#888888", "strokeWidth": 1},
 "style": {"guide-label": {"lineHeight": 15, "dy": -4.5}},
 "axis": {"labelFont": "Liberation Sans", "titleFont": "Liberation Sans", "labelFontSize": 10, "titleFontSize": 10, "titleFontWeight": "normal", "labelColor": "black", "titleColor": "black", "domainColor": "black", "tickColor": "black", "gridColor": "black", "gridOpacity": 1, "gridWidth": 1, "tickSize": 4},
 "axisX": {"labelPadding": 14.5, "titlePadding": 10},
 "axisY": {"labelPadding": 3, "titlePadding": 3, "labelOffset": 4.5},
 "title": {"font": "Liberation Sans", "fontSize": 12.5, "fontWeight": "bold", "color": "black", "anchor": "middle"},
 "legend": {"labelFont": "Liberation Sans", "labelFontSize": 10, "labelColor": "black", "labelBaseline": "top", "labelLimit": 300, "symbolSize": 100, "symbolOffset": 11, "labelOffset": 13, "padding": 3, "strokeColor": "black", "fillColor": "white", "symbolStrokeWidth": 1}
}
}
